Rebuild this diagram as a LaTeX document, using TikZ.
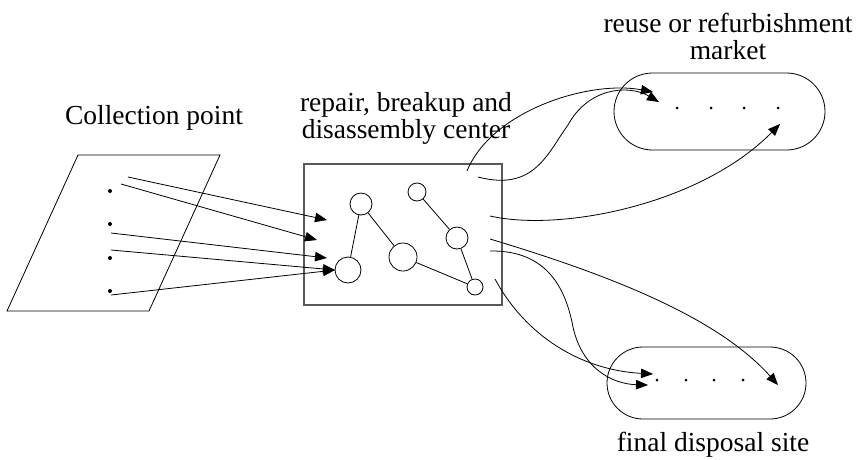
\documentclass[tikz,border=0pt]{standalone}
\usepackage{fontspec}
\setmainfont{Liberation Serif}
\usetikzlibrary{arrows.meta}
\begin{document}
\begin{tikzpicture}[x=1pt,y=-1pt,
  every path/.style={line width=0.8pt},
  lbl/.style={font=\fontsize{27.5}{27}\selectfont, inner sep=0pt, anchor=base},
  part/.style={draw, circle, inner sep=0pt, line width=0.8pt},
  dot/.style={fill, circle, inner sep=0pt, minimum size=#1},
  arr/.style={-{Triangle[length=12pt,width=9.5pt]}},
  pill/.style={draw, line width=0.8pt},
  centerbox/.style={draw=black!65, line width=1.3pt}]
\useasboundingbox (0,0) rectangle (859,459);

% labels
\node[lbl] (tcol) at (154,124) {Collection point};
\node[lbl] (tc1) at (406,111) {repair, breakup and};
\node[lbl] (tc2) at (406,138) {disassembly center};
\node[lbl] (tm1) at (728,32) {reuse or refurbishment};
\node[lbl] (tm2) at (728,59) {market};
\node[lbl] (td) at (713,451) {final disposal site};

% collection point parallelogram
\coordinate (p1) at (78,155);
\coordinate (p2) at (220,155);
\coordinate (p3) at (149,311);
\coordinate (p4) at (7,311);
\draw (p1) -- (p2) -- (p3) -- (p4) -- cycle;
\node[dot=4pt] (d1) at (110,191) {};
\node[dot=4pt] (d2) at (110,224) {};
\node[dot=4pt] (d3) at (110,258) {};
\node[dot=4pt] (d4) at (110,291) {};

% center box
\draw[centerbox] (304,164) rectangle (502,305);
\node[part, minimum size=22pt] (c1) at (361,204) {};
\node[part, minimum size=26pt] (c2) at (348,270) {};
\node[part, minimum size=28pt] (c3) at (403,257) {};
\node[part, minimum size=18pt] (c4) at (417,192) {};
\node[part, minimum size=22pt] (c5) at (457,238) {};
\node[part, minimum size=16pt] (c6) at (475,287) {};
\draw (c1) -- (c2);
\draw (c1) -- (c3);
\draw (c3) -- (c6);
\draw (c4) -- (c5);
\draw (c5) -- (c6);

% market and disposal
\node[pill, minimum width=211pt, minimum height=77pt, rounded corners=38.5pt] (mk) at (719.5,111.5) {};
\node[pill, minimum width=199pt, minimum height=72pt, rounded corners=36pt] (ds) at (706.5,383) {};
\foreach \x [count=\i] in {677,711,744,778} \node[dot=3pt] (m\i) at (\x,108) {};
\foreach \x [count=\i] in {657,686,714,743} \node[dot=3pt] (f\i) at (\x,380) {};

% arrows collection -> center
\coordinate (s1) at (128,177); \coordinate (e1) at (327,220);
\coordinate (s2) at (121,184); \coordinate (e2) at (317,240);
\coordinate (s3) at (111,233); \coordinate (e3) at (327,258);
\coordinate (s4) at (111,250); \coordinate (e4) at (335,270);
\coordinate (s5) at (111,295);
\draw[arr] (s1) -- (e1);
\draw[arr] (s2) -- (e2);
\draw[arr] (s3) -- (e3);
\draw[arr] (s4) -- (e4);
\draw[arr] (s5) -- (e4);

% arrows center -> market
\coordinate (ua) at (467,171); \coordinate (uat) at (653,92);
\coordinate (ub) at (478,177); \coordinate (ubm) at (568,125); \coordinate (ubt) at (659,102);
\coordinate (uc) at (490,216); \coordinate (uct) at (780,124);
\draw[arr] (ua) .. controls (492,110) and (590,80) .. (uat);
\draw[arr] (ub) .. controls (535,192) and (548,152) .. (ubm) .. controls (588,88) and (628,84) .. (ubt);
\draw[arr] (uc) .. controls (560,232) and (700,205) .. (uct);

% arrows center -> disposal
\coordinate (la) at (490,239); \coordinate (lat) at (778,385);
\coordinate (lb) at (490,251); \coordinate (lbm) at (572,322); \coordinate (lbt) at (648,385);
\coordinate (lc) at (495,279); \coordinate (lct) at (653,374);
\draw[arr] (la) .. controls (620,278) and (720,320) .. (lat);
\draw[arr] (lb) .. controls (548,250) and (565,290) .. (lbm) .. controls (580,368) and (612,384) .. (lbt);
\draw[arr] (lc) .. controls (525,335) and (580,370) .. (lct);
\end{tikzpicture}
\end{document}
